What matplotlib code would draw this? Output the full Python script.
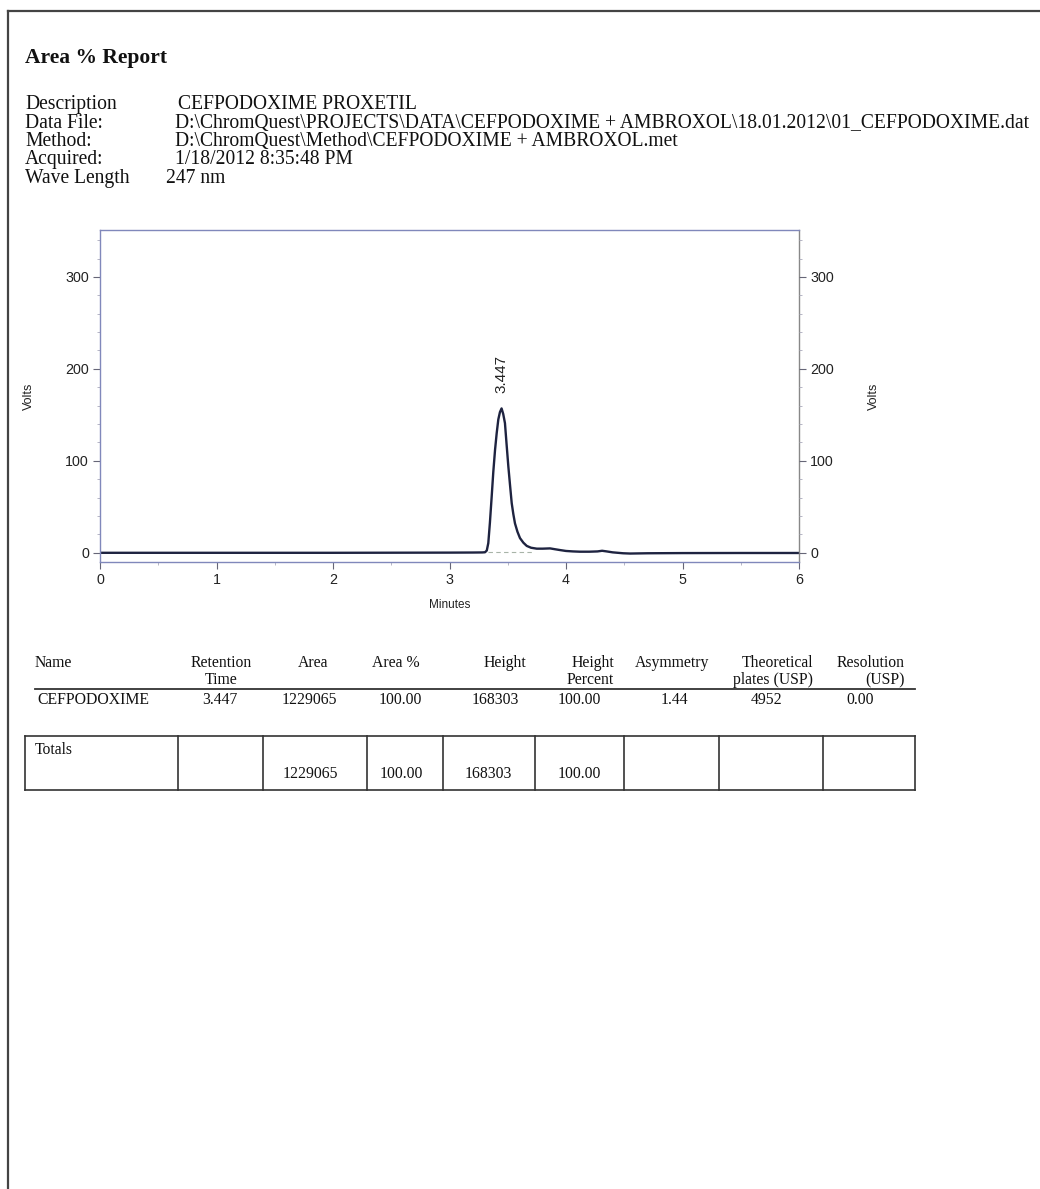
import matplotlib
matplotlib.use("Agg")
import matplotlib.pyplot as plt
from matplotlib.lines import Line2D
from matplotlib.ticker import MultipleLocator

# Report header
title = "Area % Report"
info_labels = ["Description", "Data File:", "Method:", "Acquired:", "Wave Length"]
info_values = ["CEFPODOXIME PROXETIL",
               "D:\\ChromQuest\\PROJECTS\\DATA\\CEFPODOXIME + AMBROXOL\\18.01.2012\\01_CEFPODOXIME.dat",
               "D:\\ChromQuest\\Method\\CEFPODOXIME + AMBROXOL.met",
               "1/18/2012 8:35:48 PM",
               "247 nm"]

# Chromatogram trace (minutes, volts)
time = [0.0, 0.5, 1.0, 1.5, 2.0, 2.5, 3.0, 3.2, 3.28, 3.305, 3.32, 3.333,
        3.347, 3.362, 3.376, 3.391, 3.405, 3.419, 3.433, 3.447, 3.461, 3.476,
        3.49, 3.505, 3.52, 3.534, 3.548, 3.562, 3.583, 3.605, 3.634, 3.663,
        3.70, 3.749, 3.80, 3.863, 3.90, 3.948, 4.0, 4.06, 4.12, 4.2, 4.27,
        4.31, 4.35, 4.4, 4.49, 4.55, 4.7, 5.0, 5.5, 6.0]
volts = [0.0, 0.0, 0.0, 0.0, 0.0, 0.1, 0.2, 0.3, 0.4, 0.6, 2.5, 10.5,
         33, 61, 88, 112, 130, 145, 153, 157, 151, 141,
         118, 94, 73, 54, 42, 32, 23, 16, 11, 7.5,
         5.5, 4.5, 4.5, 4.8, 4.0, 3.0, 2.0, 1.5, 1.2, 1.2, 1.5,
         2.2, 1.5, 0.5, -0.5, -0.8, -0.5, -0.3, -0.2, -0.2]
peak_rt = 3.447
peak_height = 157
baseline_x = [3.33, 3.72]
baseline_y = [0.8, 0.8]

# Results table
headers = [("Name", ""), ("Retention", "Time"), ("Area", ""), ("Area %", ""),
           ("Height", ""), ("Height", "Percent"), ("Asymmetry", ""),
           ("Theoretical", "plates (USP)"), ("Resolution", "(USP)")]
row = ["CEFPODOXIME", "3.447", "1229065", "100.00", "168303", "100.00",
       "1.44", "4952", "0.00"]
totals = ["Totals", "", "1229065", "100.00", "168303", "100.00", "", "", ""]

W, H = 1040, 1189
SERIF = "Liberation Serif"
SANS = "Liberation Sans"
plt.rcParams["font.family"] = SANS
INK = "#111111"

fig = plt.figure(figsize=(W / 100, H / 100), dpi=100)
fig.patch.set_facecolor("white")


def fx(x):
    return x / W


def fy(y):
    return 1 - y / H


def hline(x0, x1, y, lw=1.2, color="#333333"):
    fig.add_artist(Line2D([fx(x0), fx(x1)], [fy(y), fy(y)],
                          transform=fig.transFigure, lw=lw, color=color))


def vline(x, y0, y1, lw=1.2, color="#333333"):
    fig.add_artist(Line2D([fx(x), fx(x)], [fy(y0), fy(y1)],
                          transform=fig.transFigure, lw=lw, color=color))


def serif_text(x, y, s, size=11.3, ha="left", weight="normal"):
    fig.text(fx(x), fy(y), s, family=SERIF, size=size, ha=ha, va="baseline",
             weight=weight, color=INK)


# page frame
hline(8, W, 11, lw=1.6, color="#444444")
vline(8, 11, H, lw=1.6, color="#444444")

# header text
serif_text(25, 63, title, size=15.5, weight="bold")
label_base = [109, 128, 146, 164, 183]
value_x = [178, 175, 175, 175, 166]
for lab, val, y, vx in zip(info_labels, info_values, label_base, value_x):
    serif_text(25, y, lab, size=14.1)
    serif_text(vx, y, val, size=14.1)

# chromatogram
ax = fig.add_axes([fx(100), fy(562), (799 - 100) / W, (562 - 230) / H])
ax.plot(time, volts, color="#1e2340", lw=1.7)
ax.plot(baseline_x, baseline_y, color="#a8b4a8", lw=0.8, ls=(0, (4, 3)))
ax.set_xlim(0, 6)
ax.set_ylim(-10, 351)
ax.set_xticks(range(7))
ax.xaxis.set_minor_locator(MultipleLocator(0.5))
ax.set_yticks([0, 100, 200, 300])
ax.yaxis.set_minor_locator(MultipleLocator(20))
for s in ax.spines.values():
    s.set_color("#8088bb")
    s.set_linewidth(1.0)
ax.spines["right"].set_color("#888888")
tick_kw = dict(which="major", direction="out", length=5, width=0.8,
               color="#666677", labelsize=10.3, labelcolor="#222222", pad=3)
minor_kw = dict(which="minor", direction="out", length=2.5, width=0.6, color="#aaaabb")
ax.tick_params(**tick_kw)
ax.tick_params(**minor_kw)

twin = ax.twinx()
twin.set_ylim(ax.get_ylim())
twin.set_yticks([0, 100, 200, 300])
twin.yaxis.set_minor_locator(MultipleLocator(20))
twin.tick_params(**tick_kw)
twin.tick_params(**minor_kw)
for s in twin.spines.values():
    s.set_visible(False)

ax.set_xlabel("Minutes", size=8.5, color="#222222")
ax.xaxis.set_label_coords(0.5, -(599 - 562) / 332)
ax.set_ylabel("Volts", size=9, color="#222222")
ax.yaxis.set_label_coords(-(100 - 35) / 699, 0.5)
twin.set_ylabel("Volts", size=9, color="#222222")
twin.yaxis.set_label_coords(1 + (868 - 799) / 699, 0.5)

ax.annotate(f"{peak_rt:.3f}", xy=(peak_rt, peak_height), xytext=(0, 11),
            textcoords="offset points", rotation=90, ha="center", va="bottom",
            size=11, color="#222222")

# results table
col_x = [35, 221, 313, 396, 526, 614, 672, 813, 905]
col_ha = ["left", "center", "center", "center", "right", "right", "center", "right", "right"]
for (h1, h2), x, ha in zip(headers, col_x, col_ha):
    serif_text(x, 667, h1, ha=ha)
    if h2:
        serif_text(x, 684, h2, ha=ha)
hline(35, 915, 689, lw=1.3)

row_x = [37, 220, 309, 400, 495, 579, 674, 767, 860]
row_ha = ["left"] + ["center"] * 8
for val, x, ha in zip(row, row_x, row_ha):
    serif_text(x, 704, val, ha=ha)

# totals box
box_top, box_bot = 736, 790
dividers = [178, 263, 367, 443, 535, 624, 719, 823]
hline(25, 915, box_top)
hline(25, 915, box_bot)
for x in [25] + dividers + [915]:
    vline(x, box_top, box_bot)
tot_x = [35, 220, 310, 401, 488, 579, 671, 771, 869]
for i, (val, x) in enumerate(zip(totals, tot_x)):
    if not val:
        continue
    if i == 0:
        serif_text(x, 754, val)
    else:
        serif_text(x, 778, val, ha="center")

fig.savefig("out.png", dpi=100)
